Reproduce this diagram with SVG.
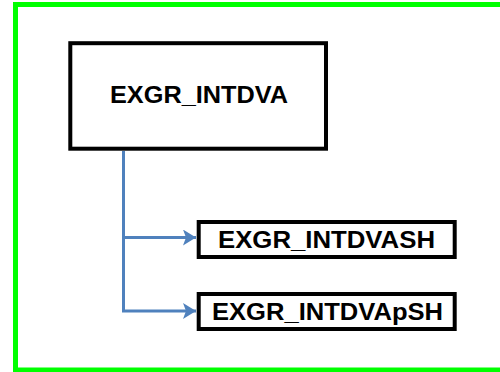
<svg xmlns="http://www.w3.org/2000/svg" width="500" height="372" viewBox="0 0 500 372">
  <style>
    .frame { fill: none; stroke: #00ff00; stroke-width: 5; }
    .node rect { fill: #ffffff; stroke: #000000; stroke-width: 4; }
    .node text { font-family: "Liberation Sans", Arial, sans-serif; font-weight: bold; fill: #000000; text-anchor: middle; }
    .conn { fill: none; stroke: #4f81bd; stroke-width: 3; }
  </style>
  <defs>
    <marker id="arrow" markerUnits="userSpaceOnUse" markerWidth="14" markerHeight="16" refX="13" refY="8" orient="auto">
      <path d="M0,0 L13,8 L0,16 L3,8 Z" fill="#4f81bd"/>
    </marker>
  </defs>
  <rect width="500" height="372" fill="#ffffff"/>
  <rect class="frame" x="15.5" y="4.5" width="492" height="365.5"/>

  <g id="connectors">
    <path class="conn" d="M123.5,151 V311 H196" marker-end="url(#arrow)"/>
    <path class="conn" d="M123.5,237.5 H196" marker-end="url(#arrow)"/>
  </g>

  <g id="node-exgr-intdva" class="node">
    <rect x="70.3" y="43.2" width="255.7" height="105.5"/>
    <text x="199" y="103" font-size="23" textLength="178" lengthAdjust="spacingAndGlyphs">EXGR_INTDVA</text>
  </g>

  <g id="node-exgr-intdvash" class="node">
    <rect x="198.7" y="222" width="256" height="35"/>
    <text x="326.5" y="248" font-size="24" textLength="217" lengthAdjust="spacingAndGlyphs">EXGR_INTDVASH</text>
  </g>

  <g id="node-exgr-intdvapsh" class="node">
    <rect x="198.7" y="294" width="256" height="35"/>
    <text x="327.5" y="320" font-size="24" textLength="231" lengthAdjust="spacingAndGlyphs">EXGR_INTDVApSH</text>
  </g>
</svg>
